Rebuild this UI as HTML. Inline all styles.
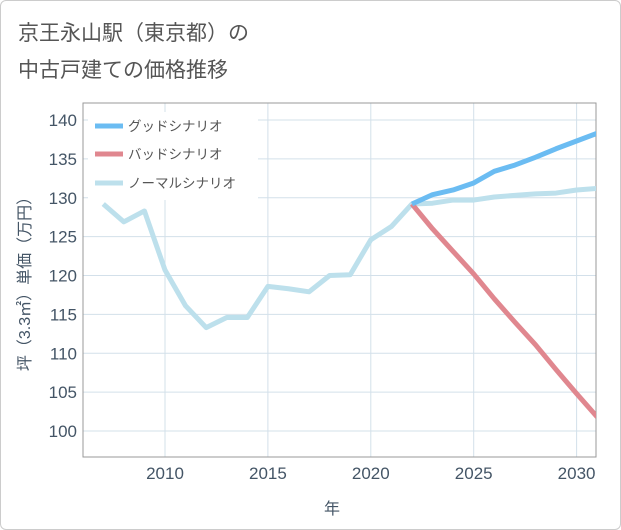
<!DOCTYPE html>
<html><head><meta charset="utf-8"><style>
body{margin:0;background:#fff;font-family:"Liberation Sans","Noto Sans CJK JP",sans-serif}
#frame{position:absolute;left:0;top:0;width:619px;height:528px;border:1px solid #ccc;border-radius:6px;background:#fff}
</style></head><body>
<div id="frame"></div>
<svg id="chart" width="621" height="530" style="position:absolute;left:0;top:0">
<text x="18" y="40" font-size="21" fill="#555">京王永山駅（東京都）の</text>
<text x="18" y="77" font-size="21" fill="#555">中古戸建ての価格推移</text>
<g id="grid"></g><g id="axes"></g><g id="series"></g><g id="legend"></g>
<text x="332" y="514" font-size="16" fill="#456" text-anchor="middle">年</text>
<text transform="translate(30,280) rotate(-90)" font-size="16" fill="#456" text-anchor="middle">坪（3.3㎡）単価（万円）</text>
</svg>
<script>
const years=[2007,2008,2009,2010,2011,2012,2013,2014,2015,2016,2017,2018,2019,2020,2021,2022,2023,2024,2025,2026,2027,2028,2029,2030,2031];
const normal=[129.2,126.9,128.3,120.7,116.1,113.3,114.6,114.6,118.6,118.3,117.9,120.0,120.1,124.6,126.3,129.2,129.3,129.7,129.7,130.1,130.3,130.5,130.6,131.0,131.2];
const futureYears=[2022,2023,2024,2025,2026,2027,2028,2029,2030,2031];
const good=[129.2,130.4,131.0,131.9,133.4,134.2,135.2,136.3,137.3,138.3];
const bad=[129.2,126.0,123.1,120.2,117.0,114.0,111.1,107.9,104.8,101.8];
const xTicks=[2010,2015,2020,2025,2030];
const yTicks=[100,105,110,115,120,125,130,135,140];
const L=83,R=596,T=103,B=457;
const x=v=>165+(v-2010)*20.58;
const y=v=>431-(v-100)*7.775;
const NS="http://www.w3.org/2000/svg";
function mk(tag,attrs,parent){const e=document.createElementNS(NS,tag);for(const k in attrs)e.setAttribute(k,attrs[k]);document.getElementById(parent).appendChild(e);return e;}
yTicks.forEach(t=>{
 const g=mk('line',{x1:L,x2:R,y1:y(t),y2:y(t),stroke:'#d3e0ea','stroke-width':1},'grid');
 
 
 const tx=mk('text',{x:L-6,y:y(t)+6,'font-size':17,fill:'#456','text-anchor':'end'},'axes');
 tx.textContent=t;
 
 
});
xTicks.forEach(t=>{
 const g=mk('line',{x1:x(t),x2:x(t),y1:T,y2:B,stroke:'#d3e0ea','stroke-width':1},'grid');
 
 
 const tx=mk('text',{x:x(t),y:B+22,'font-size':17,fill:'#456','text-anchor':'middle'},'axes');
 tx.textContent=t;
 
 
});
const bx=mk('rect',{x:L,y:T,width:R-L,height:B-T,fill:'none',stroke:'#999','stroke-width':1},'axes');


function line(xs,vs,color,name){
 const p=mk('polyline',{points:xs.map((v,i)=>x(v)+','+y(vs[i])).join(' '),fill:'none',stroke:color,'stroke-width':5,'stroke-linejoin':'round'},'series');
 
 
}
const cp=mk('clipPath',{id:'clip'},'series');const cr=document.createElementNS(NS,'rect');cr.setAttribute('x',L);cr.setAttribute('y',T);cr.setAttribute('width',R-L);cr.setAttribute('height',B-T);cp.appendChild(cr);
document.getElementById('series').setAttribute('clip-path','url(#clip)');
line(years,normal,'#bde0ec','normal-scenario-line');
line(futureYears,bad,'#e0878f','bad-scenario-line');
line(futureYears,good,'#6bbcf2','good-scenario-line');
const lg=mk('rect',{x:88,y:112,width:170,height:88,fill:'#fff'},'legend');


[['グッドシナリオ','#6bbcf2',126],['バッドシナリオ','#e0878f',154],['ノーマルシナリオ','#bde0ec',183]].forEach((d,i)=>{
 const s=mk('line',{x1:95,x2:123,y1:d[2],y2:d[2],stroke:d[1],'stroke-width':5},'legend');
 
 
 const t=mk('text',{x:128,y:d[2]+5,'font-size':13.5,fill:'#555'},'legend');
 t.textContent=d[0];
 
 
});
</script>
</body></html>
